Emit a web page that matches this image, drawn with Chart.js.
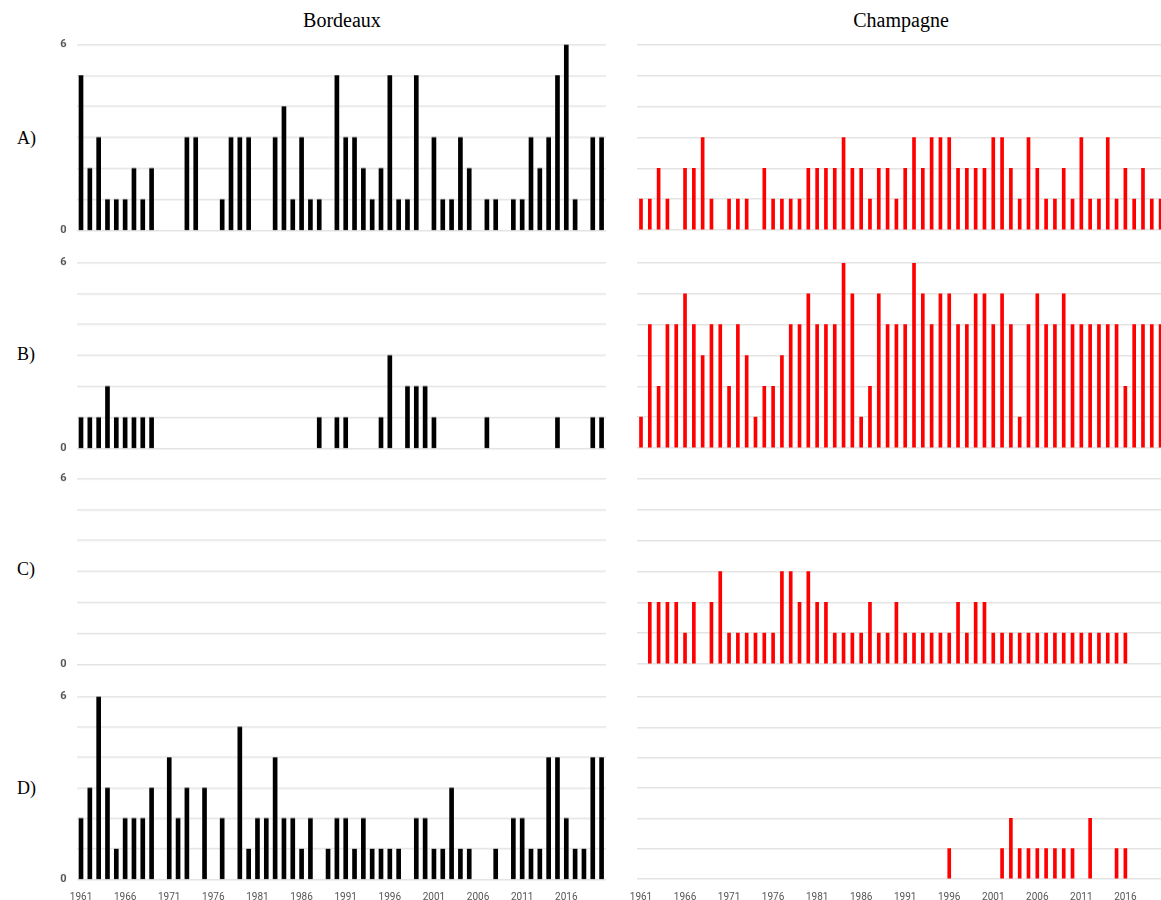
<!DOCTYPE html>
<html>
<head>
<meta charset="utf-8">
<script src="https://cdn.jsdelivr.net/npm/chart.js@4/dist/chart.umd.min.js"></script>
<style>
  html, body { margin: 0; padding: 0; background: #fff; width: 1161px; height: 900px; overflow: hidden; }
  .wrap { position: absolute; }
  .lbl { position: absolute; font-family: "Liberation Serif", "DejaVu Serif", serif; color: #000; white-space: nowrap; line-height: 1; }
  .title { font-size: 20px; transform: translateX(-50%); }
  .row { font-size: 18px; }
</style>
</head>
<body>
<div class="lbl title" style="left:342px; top:10px;">Bordeaux</div>
<div class="lbl title" style="left:901px; top:10px;">Champagne</div>
<div class="lbl row" style="left:17px; top:129px;">A)</div>
<div class="lbl row" style="left:17px; top:345px;">B)</div>
<div class="lbl row" style="left:17px; top:560px;">C)</div>
<div class="lbl row" style="left:17px; top:779px;">D)</div>

<script>
// Years 1961–2020
const years = [];
for (let y = 1961; y <= 2020; y++) years.push(String(y));

const yTicks = [0, 6];
const xTickStep = 5;

// Bordeaux series
const bordeauxA = [5,2,3,1,1,1,2,1,2,0, 0,0,3,3,0,0,1,3,3,3, 0,0,3,4,1,3,1,1,0,5, 3,3,2,1,2,5,1,1,5,0, 3,1,1,3,2,0,1,1,0,1, 1,3,2,3,5,6,1,0,3,3];
const bordeauxB = [1,1,1,2,1,1,1,1,1,0, 0,0,0,0,0,0,0,0,0,0, 0,0,0,0,0,0,0,1,0,1, 1,0,0,0,1,3,0,2,2,2, 1,0,0,0,0,0,1,0,0,0, 0,0,0,0,1,0,0,0,1,1];
const bordeauxC = [0,0,0,0,0,0,0,0,0,0, 0,0,0,0,0,0,0,0,0,0, 0,0,0,0,0,0,0,0,0,0, 0,0,0,0,0,0,0,0,0,0, 0,0,0,0,0,0,0,0,0,0, 0,0,0,0,0,0,0,0,0,0];
const bordeauxD = [2,3,6,3,1,2,2,2,3,0, 4,2,3,0,3,0,2,0,5,1, 2,2,4,2,2,1,2,0,1,2, 2,1,2,1,1,1,1,0,2,2, 1,1,3,1,1,0,0,1,0,2, 2,1,1,4,4,2,1,1,4,4];

// Champagne series
const champagneA = [1,1,2,1,0,2,2,3,1,0, 1,1,1,0,2,1,1,1,1,2, 2,2,2,3,2,2,1,2,2,1, 2,3,2,3,3,3,2,2,2,2, 3,3,2,1,3,2,1,1,2,1, 3,1,1,3,1,2,1,2,1,1];
const champagneB = [1,4,2,4,4,5,4,3,4,4, 2,4,3,1,2,2,3,4,4,5, 4,4,4,6,5,1,2,5,4,4, 4,6,5,4,5,5,4,4,5,5, 4,5,4,1,4,5,4,4,5,4, 4,4,4,4,4,2,4,4,4,4];
const champagneC = [0,2,2,2,2,1,2,0,2,3, 1,1,1,1,1,1,3,3,2,3, 2,2,1,1,1,1,2,1,1,2, 1,1,1,1,1,1,2,1,2,2, 1,1,1,1,1,1,1,1,1,1, 1,1,1,1,1,1,0,0,0,0];
const champagneD = [0,0,0,0,0,0,0,0,0,0, 0,0,0,0,0,0,0,0,0,0, 0,0,0,0,0,0,0,0,0,0, 0,0,0,0,0,1,0,0,0,0, 0,1,2,1,1,1,1,1,1,1, 0,2,0,0,1,1,0,0,0,0];

// Plot band of each row: value 6 at top, value 0 at bottom
const rows = [
  { top: 45,  bottom: 230, b: bordeauxA, c: champagneA },
  { top: 263, bottom: 448, b: bordeauxB, c: champagneB },
  { top: 479, bottom: 664, b: bordeauxC, c: champagneC },
  { top: 697, bottom: 879, b: bordeauxD, c: champagneD }
];
const cols = [
  { key: 'b', left: 50,  width: 556, axisW: 26.6, color: '#000000', bar: 4, showY: true },
  { key: 'c', left: 620, width: 545, axisW: 16.6, color: '#ff0000', bar: 3, showY: false }
];

function makePanel(row, col, isLast) {
  const wrap = document.createElement('div');
  wrap.className = 'wrap';
  const firstH = row.bottom - row.top + 40;
  wrap.style.left = col.left + 'px';
  wrap.style.top = (row.top - 10) + 'px';
  wrap.style.width = col.width + 'px';
  wrap.style.height = firstH + 'px';
  const cv = document.createElement('canvas');
  wrap.appendChild(cv);
  document.body.appendChild(wrap);

  // empty years carry no bar
  const values = row[col.key].map(v => (v === 0 ? null : v));

  const xScale = {
    display: isLast,
    offset: true,
    grid: { display: false },
    border: { display: false },
    ticks: {
      autoSkip: false,
      maxRotation: 0,
      padding: 4,
      color: '#555',
      font: { family: 'Roboto, "Liberation Sans", sans-serif', size: 10 },
      callback: (v, i) => (i % xTickStep === 0 ? years[i] : '')
    }
  };
  if (isLast) xScale.afterFit = s => { s.height = 21; };

  const chart = new Chart(cv, {
    type: 'bar',
    data: {
      labels: years,
      datasets: [{
        data: values,
        backgroundColor: col.color,
        borderWidth: 0,
        barThickness: col.bar
      }]
    },
    options: {
      responsive: true,
      maintainAspectRatio: false,
      animation: false,
      layout: { padding: { top: 4, bottom: isLast ? 0 : 4, left: 0, right: 0 } },
      plugins: { legend: { display: false }, tooltip: { enabled: false } },
      scales: {
        x: xScale,
        y: {
          min: 0,
          max: 6,
          border: { display: false },
          grid: { color: '#e4e4e4', lineWidth: 1.6, drawTicks: false },
          ticks: {
            display: col.showY,
            stepSize: 1,
            padding: 10,
            color: '#555',
            font: { family: 'Roboto, "Liberation Sans", sans-serif', size: 11, weight: 'bold' },
            callback: v => (yTicks.includes(v) ? String(v) : '')
          },
          afterFit: s => { s.width = col.axisW; }
        }
      }
    }
  });

  // Fit the canvas so the plot area spans exactly the row's band
  const insetTop = chart.chartArea.top;
  const insetBottom = chart.height - chart.chartArea.bottom;
  wrap.style.top = (row.top - insetTop) + 'px';
  wrap.style.height = (row.bottom - row.top + insetTop + insetBottom) + 'px';
  chart.resize();
}

rows.forEach((row, ri) => {
  cols.forEach(col => makePanel(row, col, ri === rows.length - 1));
});
</script>
</body>
</html>
